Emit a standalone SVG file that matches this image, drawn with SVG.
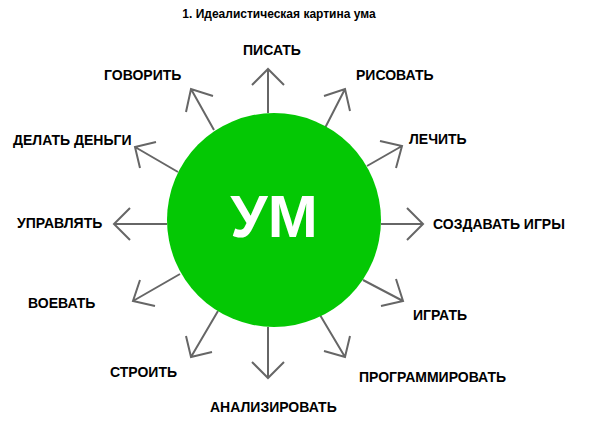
<svg xmlns="http://www.w3.org/2000/svg" width="595" height="434" viewBox="0 0 595 434">
<style>
.lbl{font-family:"Liberation Sans",Arial,sans-serif;font-weight:bold;font-size:14px;fill:#000}
.ttl{font-family:"Liberation Sans",Arial,sans-serif;font-weight:bold;font-size:12px;fill:#000}
.arr{stroke:#666;stroke-width:2;fill:none;stroke-linecap:butt;stroke-linejoin:miter}
</style>
<rect width="595" height="434" fill="#fff"/>
<text class="ttl" x="279" y="18" text-anchor="middle">1. Идеалистическая картина ума</text>
<g id="connectors">
<path class="arr" d="M268,113 L268,69 M252,85 L268,69 L284,85"/>
<path class="arr" d="M214,130 L191,89 M186,112 L191,89 L213,96"/>
<path class="arr" d="M325,128 L345,89 M324,96 L345,89 L350,111"/>
<path class="arr" d="M178,172 L135,147 M156,142 L135,147 L140,168"/>
<path class="arr" d="M167,224 L114,224 M130,208 L114,224 L130,240"/>
<path class="arr" d="M180,274 L133,301 M140,280 L133,301 L155,306"/>
<path class="arr" d="M367,166 L402,146 M380,141 L402,146 L396,168"/>
<path class="arr" d="M381,224 L423,224 M407,208 L423,224 L407,240"/>
<path class="arr" d="M363,280 L403,301 M396,279 L403,301 L381,306"/>
<path class="arr" d="M268,327 L268,378 M252,362 L268,378 L284,362"/>
<path class="arr" d="M218,311 L191,357 M186,336 L191,357 L212,352"/>
<path class="arr" d="M320,315 L345,357 M350,336 L345,357 L324,351"/>
</g>
<g id="center">
<circle cx="274" cy="220" r="107" fill="#04C804"/>
<text x="274" y="237" text-anchor="middle" font-family="'Liberation Sans',Arial,sans-serif" font-weight="bold" font-size="60" fill="#fff">УМ</text>
</g>
<g id="n-pisat"><text class="lbl" x="243" y="55">ПИСАТЬ</text></g>
<g id="n-govorit"><text class="lbl" x="104" y="80">ГОВОРИТЬ</text></g>
<g id="n-risovat"><text class="lbl" x="356" y="80">РИСОВАТЬ</text></g>
<g id="n-dengi"><text class="lbl" x="13" y="145">ДЕЛАТЬ ДЕНЬГИ</text></g>
<g id="n-upravlyat"><text class="lbl" x="17" y="228">УПРАВЛЯТЬ</text></g>
<g id="n-voevat"><text class="lbl" x="28" y="308">ВОЕВАТЬ</text></g>
<g id="n-lechit"><text class="lbl" x="409" y="144">ЛЕЧИТЬ</text></g>
<g id="n-igry"><text class="lbl" x="433" y="229">СОЗДАВАТЬ ИГРЫ</text></g>
<g id="n-igrat"><text class="lbl" x="413" y="320">ИГРАТЬ</text></g>
<g id="n-stroit"><text class="lbl" x="110" y="377">СТРОИТЬ</text></g>
<g id="n-prog"><text class="lbl" x="359" y="382">ПРОГРАММИРОВАТЬ</text></g>
<g id="n-analiz"><text class="lbl" x="210" y="412">АНАЛИЗИРОВАТЬ</text></g>
</svg>
